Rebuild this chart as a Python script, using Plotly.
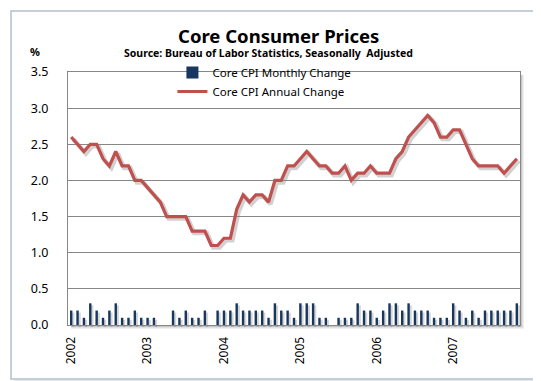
import plotly.graph_objects as go

years = ["2002", "2003", "2004", "2005", "2006", "2007"]
month_names = ["Jan", "Feb", "Mar", "Apr", "May", "Jun", "Jul", "Aug", "Sep", "Oct", "Nov", "Dec"]
months = [f"{m} {y}" for y in years for m in month_names][:71]  # Jan 2002 .. Nov 2007

monthly_change = [
    0.2, 0.2, 0.1, 0.3, 0.2, 0.1, 0.2, 0.3, 0.1, 0.1, 0.2, 0.1,  # 2002
    0.1, 0.1, 0.0, 0.0, 0.2, 0.1, 0.2, 0.1, 0.1, 0.2, 0.0, 0.2,  # 2003
    0.2, 0.2, 0.3, 0.2, 0.2, 0.2, 0.2, 0.1, 0.3, 0.2, 0.2, 0.1,  # 2004
    0.3, 0.3, 0.3, 0.1, 0.1, 0.0, 0.1, 0.1, 0.1, 0.3, 0.2, 0.2,  # 2005
    0.1, 0.2, 0.3, 0.3, 0.2, 0.3, 0.2, 0.2, 0.2, 0.1, 0.1, 0.1,  # 2006
    0.3, 0.2, 0.1, 0.2, 0.1, 0.2, 0.2, 0.2, 0.2, 0.2, 0.3,       # 2007
]
annual_change = [
    2.6, 2.5, 2.4, 2.5, 2.5, 2.3, 2.2, 2.4, 2.2, 2.2, 2.0, 2.0,  # 2002
    1.9, 1.8, 1.7, 1.5, 1.5, 1.5, 1.5, 1.3, 1.3, 1.3, 1.1, 1.1,  # 2003
    1.2, 1.2, 1.6, 1.8, 1.7, 1.8, 1.8, 1.7, 2.0, 2.0, 2.2, 2.2,  # 2004
    2.3, 2.4, 2.3, 2.2, 2.2, 2.1, 2.1, 2.2, 2.0, 2.1, 2.1, 2.2,  # 2005
    2.1, 2.1, 2.1, 2.3, 2.4, 2.6, 2.7, 2.8, 2.9, 2.8, 2.6, 2.6,  # 2006
    2.7, 2.7, 2.5, 2.3, 2.2, 2.2, 2.2, 2.2, 2.1, 2.2, 2.3,       # 2007
]
tick_vals = [f"Jan {y}" for y in years]
tick_text = years
y_ticks = [0.0, 0.5, 1.0, 1.5, 2.0, 2.5, 3.0, 3.5]

W, H = 541, 381
ML, MR, MT, MB = 60, 27, 64, 62
pw, ph = W - ML - MR, H - MT - MB
dx, dy = 2.0 / pw, 2.0 / ph

BAR = "#17375E"
RED = "#C0504D"
GRID = "#878787"
SHADOW = "rgba(0,0,0,0.16)"

fig = go.Figure()

# shadows, drawn first on hidden offset axes (x / y)
fig.add_trace(go.Bar(x=months, y=monthly_change, marker=dict(color=SHADOW, line=dict(width=0)),
                     xaxis="x", yaxis="y", showlegend=False, hoverinfo="skip"))
fig.add_trace(go.Scatter(x=months, y=annual_change, mode="lines",
                         line=dict(color="rgba(0,0,0,0.18)", width=4.5),
                         xaxis="x", yaxis="y", showlegend=False, hoverinfo="skip"))

# main series on visible axes (x2 / y2)
fig.add_trace(go.Bar(x=months, y=monthly_change, name="Core CPI Monthly Change",
                     marker=dict(color=BAR, line=dict(width=0)), xaxis="x2", yaxis="y2"))
fig.add_trace(go.Scatter(x=months, y=annual_change, mode="lines", name="Core CPI Annual Change",
                         line=dict(color=RED, width=3.2), xaxis="x2", yaxis="y2"))

font = "Noto Sans"
fig.update_layout(
    width=W, height=H,
    margin=dict(l=ML, r=MR, t=MT, b=MB),
    paper_bgcolor="white", plot_bgcolor="rgba(0,0,0,0)",
    bargap=0.62,
    font=dict(family=font, size=12, color="black"),
    xaxis=dict(type="category", categoryorder="array", categoryarray=months,
               domain=[dx, 1], range=[-0.5, len(months) - 0.5], visible=False, anchor="y"),
    yaxis=dict(domain=[0, 1 - dy], range=[0, 3.5], visible=False, anchor="x"),
    xaxis2=dict(type="category", categoryorder="array", categoryarray=months,
                domain=[0, 1 - dx], range=[-0.5, len(months) - 0.5], anchor="y2",
                tickvals=tick_vals, ticktext=tick_text, tickangle=-90,
                showgrid=False, showline=True, linecolor=GRID, linewidth=1, mirror=True,
                ticks="", ticklabelstandoff=6, tickfont=dict(size=12)),
    yaxis2=dict(domain=[dy, 1], range=[0, 3.5], tickvals=y_ticks, tickformat=".1f", anchor="x2",
                showgrid=True, gridcolor=GRID, gridwidth=1,
                showline=True, linecolor=GRID, linewidth=1, mirror=True,
                zeroline=False, ticks="", ticklabelstandoff=16, tickfont=dict(size=12.5)),
    legend=dict(x=0.23, y=1.055, xanchor="left", yanchor="top", orientation="v",
                bgcolor="rgba(255,255,255,0)", font=dict(size=11.5), tracegroupgap=0,
                itemwidth=30),
    showlegend=True,
)

def px_x(p):
    return (p - ML) / pw

def px_y(p):
    return (H - MB - p) / ph

fig.add_annotation(text="<b>Core Consumer Prices</b>", x=px_x(270), y=px_y(27), xref="paper", yref="paper",
                   showarrow=False, font=dict(size=18.5, family=font), xanchor="center", yanchor="middle")
fig.add_annotation(text="<b>Source: Bureau of Labor Statistics, Seasonally  Adjusted</b>", x=px_x(260), y=px_y(45),
                   xref="paper", yref="paper", showarrow=False, font=dict(size=10.5, family=font),
                   xanchor="center", yanchor="middle")
fig.add_annotation(text="<b>%</b>", x=px_x(27), y=px_y(43), xref="paper", yref="paper",
                   showarrow=False, font=dict(size=11, family=font), xanchor="center", yanchor="middle")

# plot-area drop shadow (right and bottom)
for i, a in enumerate([0.22, 0.12, 0.06]):
    off = 1.5 + i
    fig.add_shape(type="line", xref="paper", yref="paper", x0=px_x(ML + pw - 2 + off), x1=px_x(ML + pw - 2 + off),
                  y0=px_y(H - MB - 2 + off), y1=px_y(MT + 3), line=dict(color=f"rgba(0,0,0,{a})", width=1))
    fig.add_shape(type="line", xref="paper", yref="paper", x0=px_x(ML + 3), x1=px_x(ML + pw - 2 + off),
                  y0=px_y(H - MB - 2 + off), y1=px_y(H - MB - 2 + off), line=dict(color=f"rgba(0,0,0,{a})", width=1))

# outer chart border
fig.add_shape(type="rect", xref="paper", yref="paper", x0=px_x(3), x1=px_x(532), y0=px_y(371), y1=px_y(3),
              line=dict(color="#B4BFCC", width=1.5), layer="below")
fig.add_shape(type="line", xref="paper", yref="paper", x0=px_x(534), x1=px_x(534), y0=px_y(372), y1=px_y(6),
              line=dict(color="#E2E6EC", width=2), layer="below")
fig.add_shape(type="line", xref="paper", yref="paper", x0=px_x(6), x1=px_x(534), y0=px_y(373), y1=px_y(373),
              line=dict(color="#E2E6EC", width=2), layer="below")

fig.write_html("out.html")
